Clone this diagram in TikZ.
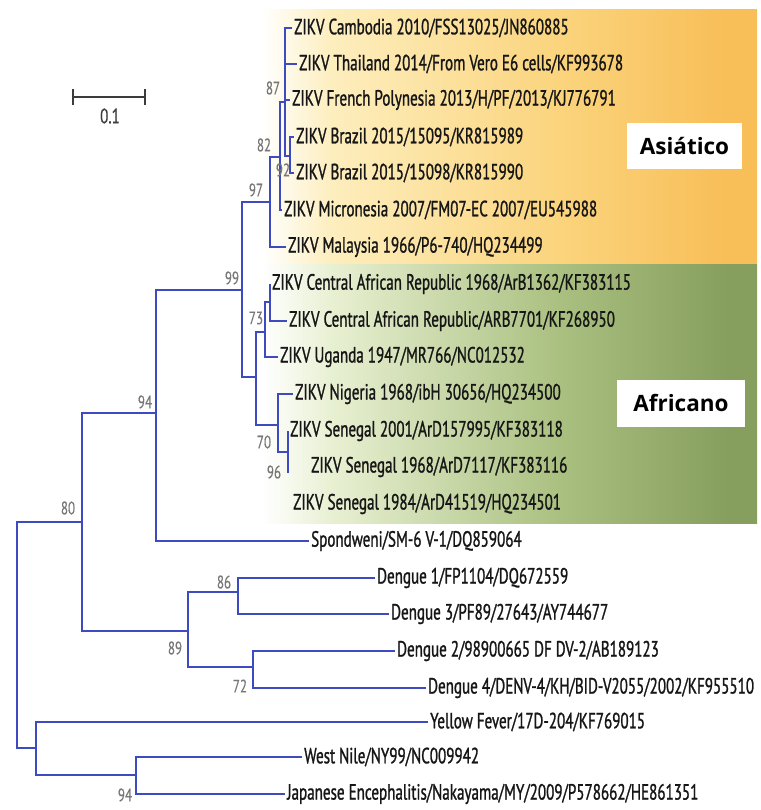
\documentclass[tikz,border=0pt]{standalone}
\usepackage{fontspec}
\setmainfont{PT Sans}
\newfontfamily\taxfont[FakeStretch=0.685,FakeBold=1.1]{PT Sans}
\newfontfamily\bootfont[FakeStretch=0.72,FakeBold=0.5]{PT Sans}
\newfontfamily\tagfont{Open Sans}
\definecolor{branchblue}{RGB}{62,74,192}
\definecolor{taxtext}{RGB}{22,22,22}
\definecolor{bootgray}{RGB}{120,120,120}
\definecolor{scalegray}{RGB}{60,60,60}
\definecolor{asialight}{RGB}{253,238,190}
\definecolor{asiamid}{RGB}{251,212,125}
\definecolor{asiadark}{RGB}{248,190,88}
\definecolor{afrolight}{RGB}{232,240,210}
\definecolor{afromid}{RGB}{170,192,128}
\definecolor{afrodark}{RGB}{134,158,94}
\pgfdeclarehorizontalshading{asiashade}{100bp}{color(0bp)=(white); color(25bp)=(white); color(32bp)=(asialight); color(55bp)=(asiamid); color(72bp)=(asiadark); color(100bp)=(asiadark)}
\pgfdeclarehorizontalshading{afroshade}{100bp}{color(0bp)=(white); color(25bp)=(white); color(32bp)=(afrolight); color(55bp)=(afromid); color(72bp)=(afrodark); color(100bp)=(afrodark)}
\begin{document}
\begin{tikzpicture}[x=1pt,y=-1pt,
  taxon/.style={anchor=west,inner xsep=2pt,inner ysep=0pt,text=taxtext,font=\taxfont\fontsize{22}{22}\selectfont},
  boot/.style={inner sep=0pt,text=bootgray,font=\bootfont\fontsize{18}{18}\selectfont},
  branch/.style={draw=branchblue,line width=1.7pt},
  scalebar/.style={draw=scalegray,line width=1.8pt},
  cladetag/.style={fill=white,inner sep=0pt,font=\tagfont\bfseries\fontsize{22.5}{22.5}\selectfont}]
\useasboundingbox (0,0) rectangle (760,810);
\shade [shading=asiashade] (262,10) rectangle (757,264);
\shade [shading=afroshade] (262,264) rectangle (757,523);
\node [cladetag,minimum width=115pt,minimum height=46pt] (asia) at (684.5,146) {Asiático};
\node [cladetag,minimum width=128pt,minimum height=47pt] (africa) at (681,403) {Africano};
\draw [scalebar] (73,97) -- (145,97);
\draw [scalebar] (73,89) -- (73,105);
\draw [scalebar] (145,89) -- (145,105);
\node [text=scalegray,font=\bootfont\fontsize{21}{21}\selectfont] (scale) at (110,116) {0.1};
\node [taxon] (cam) at (292,28) {ZIKV Cambodia 2010/FSS13025/JN860885};
\node [taxon] (tha) at (297,64) {ZIKV Thailand 2014/From Vero E6 cells/KF993678};
\node [taxon] (frp) at (290,100) {ZIKV French Polynesia 2013/H/PF/2013/KJ776791};
\node [taxon] (bra1) at (294,137) {ZIKV Brazil 2015/15095/KR815989};
\node [taxon] (bra2) at (294,173) {ZIKV Brazil 2015/15098/KR815990};
\node [taxon] (mic) at (282,210) {ZIKV Micronesia 2007/FM07-EC 2007/EU545988};
\node [taxon] (mal) at (286,247) {ZIKV Malaysia 1966/P6-740/HQ234499};
\node [taxon] (car1) at (270,284) {ZIKV Central African Republic 1968/ArB1362/KF383115};
\node [taxon] (car2) at (287,321) {ZIKV Central African Republic/ARB7701/KF268950};
\node [taxon] (uga) at (278,357) {ZIKV Uganda 1947/MR766/NC012532};
\node [taxon] (nig) at (293,394) {ZIKV Nigeria 1968/ibH 30656/HQ234500};
\node [taxon] (sen1) at (288,431) {ZIKV Senegal 2001/ArD157995/KF383118};
\node [taxon] (sen2) at (309,467) {ZIKV Senegal 1968/ArD7117/KF383116};
\node [taxon] (sen3) at (291,504) {ZIKV Senegal 1984/ArD41519/HQ234501};
\node [taxon] (spo) at (309,541) {Spondweni/SM-6 V-1/DQ859064};
\node [taxon] (den1) at (375,578) {Dengue 1/FP1104/DQ672559};
\node [taxon] (den3) at (389,614) {Dengue 3/PF89/27643/AY744677};
\node [taxon] (den2) at (395,651) {Dengue 2/98900665 DF DV-2/AB189123};
\node [taxon] (den4) at (426,688) {Dengue 4/DENV-4/KH/BID-V2055/2002/KF955510};
\node [taxon] (yf) at (428,722) {Yellow Fever/17D-204/KF769015};
\node [taxon] (wn) at (302,757) {West Nile/NY99/NC009942};
\node [taxon] (je) at (285,794) {Japanese Encephalitis/Nakayama/MY/2009/P578662/HE861351};
\coordinate (root) at (17,635);
\coordinate (nA) at (82,522);
\coordinate (nB) at (156,413);
\coordinate (nC) at (242,290);
\coordinate (nI) at (270,202);
\coordinate (nK) at (280,157);
\coordinate (nP) at (285,102);
\coordinate (nM) at (290,156);
\coordinate (nQ) at (256,377);
\coordinate (nR) at (265,332);
\coordinate (nT) at (270,302);
\coordinate (nS) at (278,425);
\coordinate (nU) at (288,452);
\coordinate (nUend) at (288,473);
\coordinate (nD) at (188,631);
\coordinate (nE) at (238,592);
\coordinate (nF) at (253,667);
\coordinate (nG) at (36,748);
\coordinate (nH) at (136,775);
\draw [branch] (root) |- (nA);
\draw [branch] (root) |- (nG);
\draw [branch] (nA) |- (nB);
\draw [branch] (nA) |- (nD);
\draw [branch] (nB) |- (nC);
\draw [branch] (nB) |- (spo.west);
\draw [branch] (nC) |- (nI);
\draw [branch] (nC) |- (nQ);
\draw [branch] (nI) |- (nK);
\draw [branch] (nI) |- (mal.west);
\draw [branch] (nK) |- (nP);
\draw [branch] (nK) |- (mic.west);
\draw [branch] (nP) |- (cam.west);
\draw [branch] (nP) |- (tha.west);
\draw [branch] (nP) |- (frp.west);
\draw [branch] (nP) |- (nM);
\draw [branch] (nM) |- (bra1.west);
\draw [branch] (nM) |- (bra2.west);
\draw [branch] (nQ) |- (nR);
\draw [branch] (nQ) |- (nS);
\draw [branch] (nR) |- (nT);
\draw [branch] (nR) |- (uga.west);
\draw [branch] (nT) |- (car1.west);
\draw [branch] (nT) |- (car2.west);
\draw [branch] (nS) |- (nig.west);
\draw [branch] (nS) |- (nU);
\draw [branch] (nU) |- (sen1.west);
\draw [branch] (nU) -- (nUend);
\draw [branch] (nD) |- (nE);
\draw [branch] (nD) |- (nF);
\draw [branch] (nE) |- (den1.west);
\draw [branch] (nE) |- (den3.west);
\draw [branch] (nF) |- (den2.west);
\draw [branch] (nF) |- (den4.west);
\draw [branch] (nG) |- (yf.west);
\draw [branch] (nG) |- (nH);
\draw [branch] (nH) |- (wn.west);
\draw [branch] (nH) |- (je.west);
\node [boot] (b80) at (68,508) {80};
\node [boot] (b94a) at (145,402) {94};
\node [boot] (b99) at (232,278) {99};
\node [boot] (b97) at (256,190) {97};
\node [boot] (b82) at (264,145) {82};
\node [boot] (b87) at (273,88) {87};
\node [boot] (b92) at (283,170) {92};
\node [boot] (b73) at (256,318) {73};
\node [boot] (b70) at (264,442) {70};
\node [boot] (b96) at (274,472) {96};
\node [boot] (b86) at (224,582) {86};
\node [boot] (b89) at (175,648) {89};
\node [boot] (b72) at (240,686) {72};
\node [boot] (b94b) at (125,795) {94};
\end{tikzpicture}
\end{document}
